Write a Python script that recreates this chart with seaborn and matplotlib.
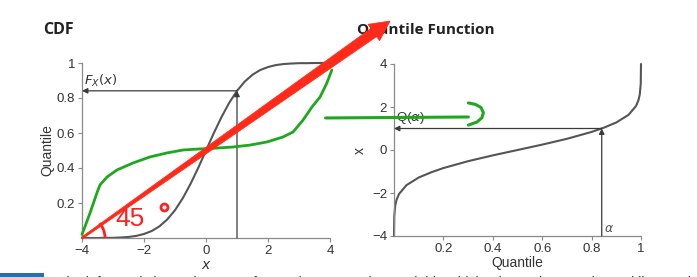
import numpy as np
import pandas as pd
import matplotlib
matplotlib.use("Agg")
import matplotlib.pyplot as plt
import seaborn as sns
from matplotlib.patches import Polygon, Arc, Rectangle
from matplotlib.transforms import IdentityTransform

# ---------------- data ----------------
cdf_x = [-4, -3.75, -3.5, -3.25, -3, -2.75, -2.5, -2.25, -2, -1.75, -1.5, -1.25, -1,
         -0.75, -0.5, -0.25, 0, 0.25, 0.5, 0.75, 1, 1.25, 1.5, 1.75, 2, 2.25, 2.5,
         2.75, 3, 3.25, 3.5, 3.75, 4]
cdf_p = [0.000, 0.000, 0.000, 0.001, 0.001, 0.003, 0.006, 0.012, 0.023, 0.040, 0.067,
         0.106, 0.159, 0.227, 0.309, 0.401, 0.500, 0.599, 0.691, 0.773, 0.841, 0.894,
         0.933, 0.960, 0.977, 0.988, 0.994, 0.997, 0.999, 0.999, 1.000, 1.000, 1.000]

q_alpha = [0.00003, 0.001, 0.005, 0.01, 0.02, 0.05, 0.1, 0.15, 0.2, 0.3, 0.4, 0.5,
           0.6, 0.7, 0.8, 0.85, 0.9, 0.95, 0.98, 0.99, 0.995, 0.999, 0.99997]
q_x = [-4.0, -3.09, -2.58, -2.33, -2.05, -1.64, -1.28, -1.04, -0.84, -0.52, -0.25, 0.0,
       0.25, 0.52, 0.84, 1.04, 1.28, 1.64, 2.05, 2.33, 2.58, 3.09, 4.0]

# hand-drawn green curve on the CDF panel
green_x = [-4.0, -3.74, -3.52, -3.42, -3.19, -2.87, -2.35, -1.81, -1.26, -0.74, -0.19,
           0.35, 0.87, 1.42, 1.97, 2.48, 2.81, 3.13, 3.42, 3.68, 3.90, 4.06]
green_y = [0.02, 0.143, 0.257, 0.303, 0.349, 0.389, 0.429, 0.463, 0.486, 0.503, 0.509,
           0.514, 0.52, 0.531, 0.549, 0.577, 0.606, 0.674, 0.749, 0.806, 0.886, 0.96]

# hand-drawn green arrow (right-panel data coords)
garrow_x = [-0.277, 0.301]
garrow_y = [1.49, 1.535]
gchev_x = [0.301, 0.330, 0.352, 0.362, 0.356, 0.336, 0.301]
gchev_y = [2.19, 2.12, 1.98, 1.74, 1.50, 1.30, 1.16]

x0, Fx0 = 1.0, 0.841          # marked point on CDF
alpha0, Qa0 = 0.841, 1.0      # marked point on quantile function

red_start = (-4.0, 0.0)       # red hand-drawn arrow (left-panel data coords)
red_tip = (5.94, 1.24)

left_xticks = [-4, -2, 0, 2, 4]
left_yticks = [0.2, 0.4, 0.6, 0.8, 1.0]
left_yticklabels = ["0.2", "0.4", "0.6", "0.8", "1"]
right_xticks = [0.2, 0.4, 0.6, 0.8, 1.0]
right_xticklabels = ["0.2", "0.4", "0.6", "0.8", "1"]
right_yticks = [-4, -2, 0, 2, 4]

caption = ("The left panel shows the CDF of a continuous random variable which takes "
           "values on the real line, and the right panel shows its quantile function")

# ---------------- styling ----------------
sns.set_theme(style="ticks")
plt.rcParams["font.family"] = ["Liberation Sans", "DejaVu Sans"]
plt.rcParams["mathtext.fontset"] = "dejavusans"

W, H = 697, 277
fig = plt.figure(figsize=(W / 100, H / 100), dpi=100)
fig.patch.set_facecolor("white")

def px_axes(l, r, t, b):
    return [l / W, (H - b) / H, (r - l) / W, (b - t) / H]

axL = fig.add_axes(px_axes(82, 330, 63, 238))
axR = fig.add_axes(px_axes(394, 641, 64, 236))

curve_col = "#555555"
arrow_col = "#3a3a3a"
spine_col = "#8a8a8a"
red = "#ff2020"
green = "#1ea81e"

for ax in (axL, axR):
    ax.set_facecolor("white")
    for s in ("top", "right"):
        ax.spines[s].set_visible(False)
    for s in ("left", "bottom"):
        ax.spines[s].set_color(spine_col)
        ax.spines[s].set_linewidth(0.9)
    ax.tick_params(axis="both", length=3, width=0.8, color=spine_col,
                   labelsize=9.5, labelcolor="#333333", pad=2)

# ---- left panel: CDF ----
df_cdf = pd.DataFrame({"x": cdf_x, "p": cdf_p})
sns.lineplot(data=df_cdf, x="x", y="p", ax=axL, color=curve_col, lw=1.5,
             estimator=None, sort=False)
df_g = pd.DataFrame({"x": green_x, "y": green_y})
sns.lineplot(data=df_g, x="x", y="y", ax=axL, color=green, lw=2.0,
             estimator=None, sort=False, zorder=4)
for a in axL.get_lines():
    a.set_clip_on(False)

axL.set_xlim(-4, 4)
axL.set_ylim(0, 1)
axL.set_xticks(left_xticks)
axL.set_xticklabels([str(t).replace("-", "\u2212") for t in left_xticks])
axL.set_yticks(left_yticks)
axL.set_yticklabels(left_yticklabels)
axL.set_xlabel("$x$", fontsize=10, color="#333333", labelpad=1)
axL.set_ylabel("Quantile", fontsize=10, color="#333333", labelpad=2)

ap = dict(arrowstyle="-|>", lw=0.9, color=arrow_col, mutation_scale=8,
          shrinkA=0, shrinkB=0)
axL.annotate("", xy=(x0, Fx0), xytext=(x0, 0), arrowprops=ap, annotation_clip=False)
axL.annotate("", xy=(-4, Fx0), xytext=(x0, Fx0), arrowprops=ap, annotation_clip=False)
axL.text(-3.92, 0.85, "$F_X(x)$", fontsize=9.5, color="#333333", va="bottom", ha="left")

# red hand-drawn "45°" and angle arc
axL.text(-2.92, 0.04, "45", fontsize=19, color=red, ha="left", va="bottom")
axL.plot([-1.37], [0.178], marker="o", ms=5, mfc="none", mec=red, mew=2,
         clip_on=False, zorder=6)
axL.add_patch(Arc(red_start, 2 * 23 / 31, 2 * 23 / 175, theta1=0, theta2=8.5,
                  color=red, lw=2.0, clip_on=False, zorder=6))

# ---- right panel: quantile function ----
df_q = pd.DataFrame({"alpha": q_alpha, "x": q_x})
sns.lineplot(data=df_q, x="alpha", y="x", ax=axR, color=curve_col, lw=1.5,
             estimator=None, sort=False)
axR.set_xlim(0, 1)
axR.set_ylim(-4, 4)
axR.set_xticks(right_xticks)
axR.set_xticklabels(right_xticklabels)
axR.set_yticks(right_yticks)
axR.set_yticklabels([str(t).replace("-", "\u2212") for t in right_yticks])
axR.set_xlabel("Quantile", fontsize=10, color="#333333", labelpad=1)
axR.set_ylabel("x", fontsize=10, color="#333333", labelpad=4)
for line in axR.get_lines():
    line.set_clip_on(False)

axR.annotate("", xy=(alpha0, Qa0), xytext=(alpha0, -4), arrowprops=ap, annotation_clip=False)
axR.annotate("", xy=(0, Qa0), xytext=(alpha0, Qa0), arrowprops=ap, annotation_clip=False)
axR.text(0.008, 1.1, r"Q($\alpha$)", fontsize=9.5, color="#333333", va="bottom", ha="left")
axR.text(0.85, -3.95, r"$\alpha$", fontsize=9, color="#555555", va="bottom", ha="left")

# green hand-drawn arrow
axR.plot(garrow_x, garrow_y, color=green, lw=2.2, clip_on=False, zorder=6,
         solid_capstyle="round")
axR.plot(gchev_x, gchev_y, color=green, lw=2.2, clip_on=False, zorder=6,
         solid_capstyle="round", solid_joinstyle="round")

# ---- titles ----
fig.text(43 / W, (H - 34) / H, "CDF", fontsize=11.5, fontweight="bold",
         color="#222222", ha="left", va="baseline", family=["Open Sans", "DejaVu Sans"])
fig.text(357 / W, (H - 34) / H, "Quantile Function", fontsize=11, fontweight="bold",
         color="#222222", ha="left", va="baseline", family=["Open Sans", "DejaVu Sans"])

# ---- red hand-drawn arrow (tapered) ----
p0 = axL.transData.transform(red_start)
p1 = axL.transData.transform(red_tip)
d = p1 - p0
L = np.hypot(*d)
u = d / L
n = np.array([-u[1], u[0]])
head_len, head_hw, hw0, hw1 = 20, 10, 1.0, 5.0
base = p1 - u * head_len
poly = [p0 + n * hw0, base + n * hw1, base + n * head_hw, p1,
        base - n * head_hw, base - n * hw1, p0 - n * hw0]
fig.add_artist(Polygon(poly, closed=True, transform=IdentityTransform(),
                       facecolor="#ff2a1a", edgecolor="#ff2a1a", lw=0.5, zorder=10))

# ---- cut-off caption strip ----
fig.add_artist(Rectangle((0, 0), 44 / W, 4 / H, transform=fig.transFigure,
                         facecolor="#2a6ea8", edgecolor="none", zorder=5))
fig.text(58 / W, 1 / H, caption, fontsize=10, color="#333333", ha="left", va="top")

fig.savefig("out.png", dpi=100, facecolor="white")
